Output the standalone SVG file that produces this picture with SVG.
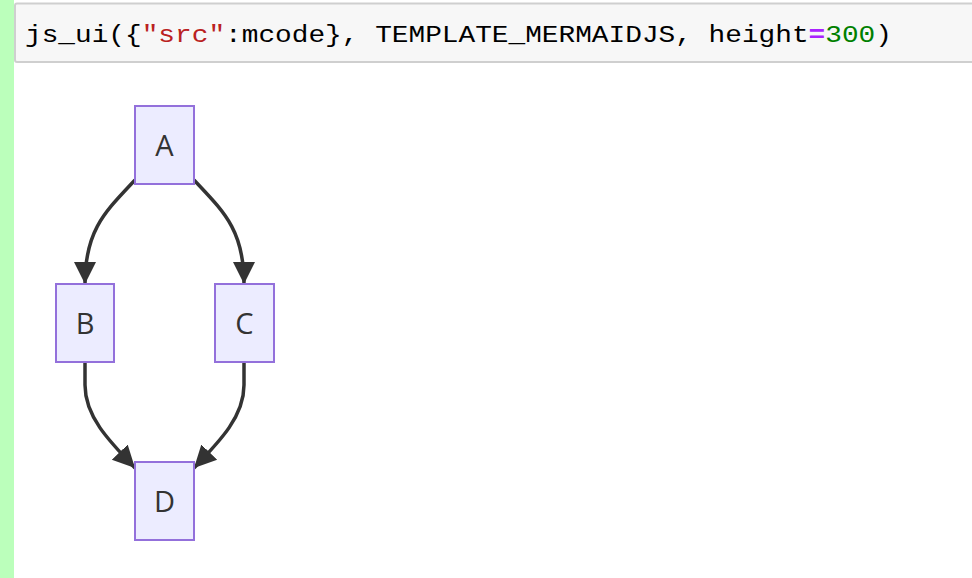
<svg xmlns="http://www.w3.org/2000/svg" width="972" height="578" viewBox="0 0 972 578">
<defs>
<style>
.node rect{fill:#ECECFF;stroke:#9370DB;stroke-width:2}
.node text{font-family:"Open Sans","DejaVu Sans",sans-serif;font-size:29px;fill:#333;text-anchor:middle}
.edge{fill:none;stroke:#333;stroke-width:3.5;stroke-linecap:butt}
.code{font-family:"Liberation Mono","DejaVu Sans Mono",monospace;font-size:24px;fill:#000}
</style>
<marker id="arrow" viewBox="0 0 10 10" refX="10" refY="5" markerUnits="userSpaceOnUse" markerWidth="22" markerHeight="24" orient="auto">
<path d="M0,0 L10,5 L0,10 z" fill="#333"/>
</marker>
</defs>
<rect x="0" y="0" width="972" height="578" fill="#fff"/>
<rect x="0" y="0" width="14" height="578" fill="#bbffbb"/>
<g id="code-cell">
<rect x="15" y="3.5" width="962" height="58.5" rx="2" fill="#f7f7f7" stroke="#cfcfcf" stroke-width="2"/>
<text class="code" x="25" y="42" textLength="867" lengthAdjust="spacingAndGlyphs">js_ui({<tspan fill="#BA2121">"src"</tspan>:mcode}, TEMPLATE_MERMAIDJS, height<tspan fill="#AA22FF" font-weight="bold">=</tspan><tspan fill="#008000">300</tspan>)</text>
</g>
<g id="edges">
<path class="edge" d="M135,180 C105,212 85,230 85,284" marker-end="url(#arrow)"/>
<path class="edge" d="M194,180 C224,212 244,230 244,284" marker-end="url(#arrow)"/>
<path class="edge" d="M85,362 L85,385 C85,416 108,440 135,468" marker-end="url(#arrow)"/>
<path class="edge" d="M244,362 L244,385 C244,416 221,440 194,468" marker-end="url(#arrow)"/>
</g>
<g id="A" class="node"><rect x="135" y="106" width="59" height="78"/><text x="164.5" y="156">A</text></g>
<g id="B" class="node"><rect x="56" y="284" width="58" height="78"/><text x="85" y="334">B</text></g>
<g id="C" class="node"><rect x="215" y="284" width="59" height="78"/><text x="244.5" y="334">C</text></g>
<g id="D" class="node"><rect x="135" y="462" width="59" height="78"/><text x="164.5" y="512">D</text></g>
</svg>
